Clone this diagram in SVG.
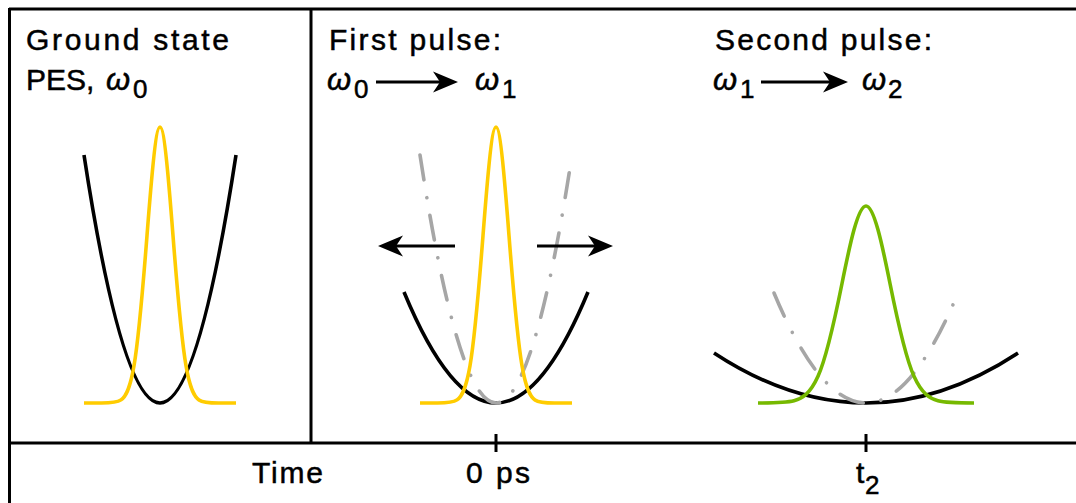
<svg xmlns="http://www.w3.org/2000/svg" xmlns:xlink="http://www.w3.org/1999/xlink" width="1076" height="503" viewBox="0 0 1076 503">
  <style>
    .frame { stroke: #000; stroke-width: 3; fill: none; }
    .pes { stroke: #000; stroke-width: 3.6; fill: none; }
    .old { stroke: #a6a6a6; stroke-width: 3.6; fill: none; stroke-dasharray: 25 18 0.1 18; stroke-linecap: round; }
    .wp0 { stroke: #ffcc00; stroke-width: 3.6; fill: none; }
    .wp2 { stroke: #76b900; stroke-width: 3.6; fill: none; }
    .arr { stroke: #000; stroke-width: 3.2; fill: none; marker-end: url(#head); }
    text { font-family: "Liberation Sans", Arial, sans-serif; font-size: 30px; fill: #000; stroke: #000; stroke-width: 0.5px; }
    .w { font-style: italic; font-size: 31px; }
    .sub { font-size: 26px; }
  </style>
  <defs>
    <marker id="head" markerUnits="userSpaceOnUse" markerWidth="30" markerHeight="26" viewBox="-9 -13 28 26" refX="0" refY="0" orient="auto">
      <path d="M18,0 L-7,-10.5 L0,0 L-7,10.5 Z" fill="#000"/>
    </marker>
    <path id="gauss0" class="wp0" d="M84,403 L101.5,403 C108,403 116.67,403 121,399.9 C125.33,396.9 129.67,390.6 134,365.7 C138.33,340.8 142.67,291.4 147,235.6 C151.33,179.8 155.67,127 160,127 C164.33,127 168.67,179.8 173,235.6 C177.33,291.4 181.67,340.8 186,365.7 C190.33,390.6 194.67,396.9 199,399.9 C203.33,403 212,403 218.5,403 L236,403"/>
  </defs>

  <g id="frame">
    <line class="frame" x1="9" y1="9" x2="1076" y2="9"/>
    <line class="frame" x1="9.5" y1="8" x2="9.5" y2="503"/>
    <line class="frame" x1="311" y1="9" x2="311" y2="443"/>
    <line class="frame" x1="9" y1="443" x2="1076" y2="443"/>
    <line class="frame" x1="496" y1="434" x2="496" y2="452"/>
    <line class="frame" x1="866" y1="434" x2="866" y2="452"/>
  </g>

  <g id="panel-ground">
    <text x="26" y="50" textLength="203" lengthAdjust="spacing">Ground state</text>
    <text x="26" y="90">PES,</text>
    <text class="w" x="106" y="90">ω</text>
    <text class="sub" x="133" y="98">0</text>
    <path class="pes" d="M84,155 Q160,651 236,155"/>
    <use xlink:href="#gauss0"/>
  </g>

  <g id="panel-first">
    <text x="329" y="50" textLength="172" lengthAdjust="spacing">First pulse:</text>
    <text class="w" x="327" y="90">ω</text>
    <text class="sub" x="354" y="98">0</text>
    <text class="w" x="475" y="90">ω</text>
    <text class="sub" x="502" y="98">1</text>
    <path class="pes" d="M404,292 Q496,514 588,292"/>
    <path class="old" d="M420,155 Q496,651 572,155"/>
    <use xlink:href="#gauss0" transform="translate(336,0)"/>
  </g>

  <g id="panel-second">
    <text x="715" y="50" textLength="217" lengthAdjust="spacing">Second pulse:</text>
    <text class="w" x="713" y="90">ω</text>
    <text class="sub" x="740" y="98">1</text>
    <text class="w" x="862" y="90">ω</text>
    <text class="sub" x="888" y="98">2</text>
    <path class="pes" d="M714,353 Q866,453 1018,353"/>
    <path class="old" d="M774,293 Q866,513 958,293"/>
    <path class="wp2" d="M758,403 C770,403 786,403 794,400.8 C802,398.6 810,394.1 818,376.3 C826,358.6 834,323.4 842,283.5 C850,243.7 858,206 866,206 C874,206 882,243.7 890,283.5 C898,323.4 906,358.6 914,376.3 C922,394.1 930,398.6 938,400.8 C946,403 962,403 974,403"/>
  </g>

  <g id="connectors">
    <line class="arr" x1="376" y1="82" x2="440" y2="82"/>
    <line class="arr" x1="761" y1="82" x2="830" y2="82"/>
    <line class="arr" x1="455" y1="246" x2="396" y2="246"/>
    <line class="arr" x1="537" y1="246" x2="595" y2="246"/>
  </g>

  <g id="axis-labels">
    <text x="252" y="483" textLength="71" lengthAdjust="spacing">Time</text>
    <text x="466" y="483" textLength="64" lengthAdjust="spacing">0 ps</text>
    <text x="856" y="483">t</text>
    <text class="sub" x="865" y="494">2</text>
  </g>
</svg>
